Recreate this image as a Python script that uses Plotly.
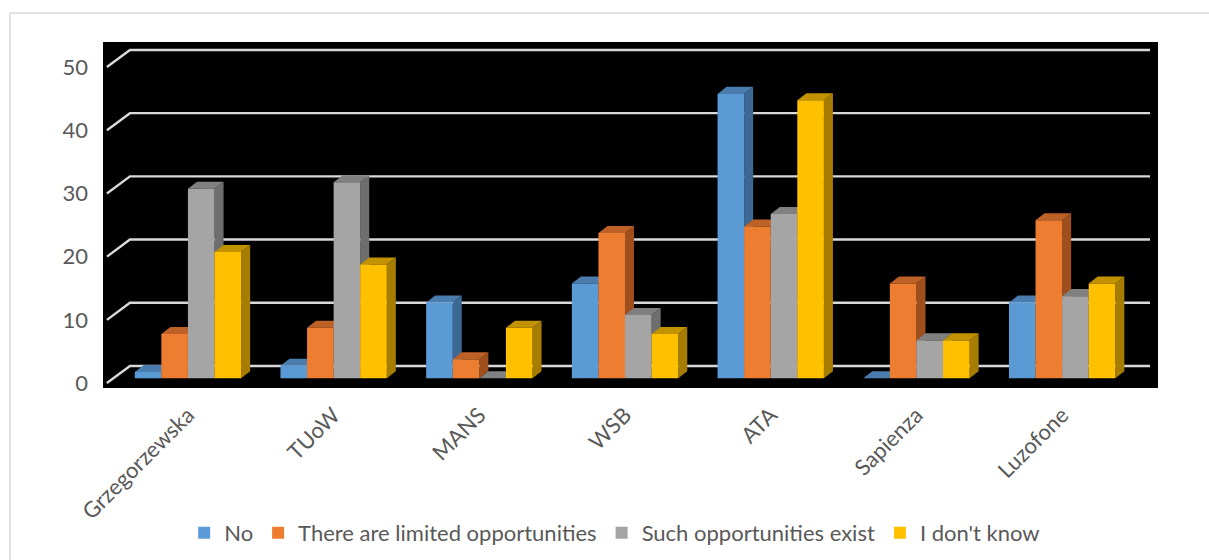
import plotly.graph_objects as go

# ---------------- data ----------------
categories = ["Grzegorzewska", "TUoW", "MANS", "WSB", "ATA", "Sapienza", "Luzofone"]
series_names = ["No", "There are limited opportunities", "Such opportunities exist", "I don't know"]
no_vals = [1, 2, 12, 15, 45, 0, 12]
limited_vals = [7, 8, 3, 23, 24, 15, 25]
exist_vals = [30, 31, 0, 10, 26, 6, 13]
dontknow_vals = [20, 18, 8, 7, 44, 6, 15]
y_ticks = [0, 10, 20, 30, 40, 50]

# ---------------- styling ----------------
front_colors = ["#5B9BD5", "#ED7D31", "#A5A5A5", "#FFC000"]
side_colors = ["#3D6894", "#9E4F1D", "#6E6E6E", "#A67D00"]
top_colors = ["#4A7CAE", "#BD6127", "#808080", "#C29200"]
FONT = "Lato"
FS = 22
TXT = "#595959"

# geometry (axis units)
GROUP_W = 0.73
BAR_W = GROUP_W / 4
DX = 0.062      # depth offset in x
DY = 1.11       # depth offset in y
BACK_DY = 1.95  # back wall offset
FRONT_DY = -0.75  # front axis plane offset
XMIN, XMAX = -0.583, 6.658
YMIN, YMAX = -1.535, 53.21

all_vals = [no_vals, limited_vals, exist_vals, dontknow_vals]
xs = list(range(len(categories)))

fig = go.Figure()
shapes = []

# back wall gridlines with the diagonal on the side wall
for v in y_ticks:
    shapes.append(dict(
        type="path", xref="x", yref="y", layer="below",
        path=f"M {-0.556},{v + FRONT_DY} L {-0.398},{v + BACK_DY} L {6.603},{v + BACK_DY}",
        line=dict(color="#D9D9D9", width=2.4)))

# 3D faces (sides / tops) drawn below the fronts
for k, vals in enumerate(all_vals):
    off = -GROUP_W / 2 + k * BAR_W
    for i, v in zip(xs, vals):
        xl = i + off
        xr = xl + BAR_W
        side = f"M {xr},0 L {xr + DX},{DY} L {xr + DX},{v + DY} L {xr},{v} Z"
        top = f"M {xl},{v} L {xl + DX},{v + DY} L {xr + DX},{v + DY} L {xr},{v} Z"
        shapes.append(dict(type="path", xref="x", yref="y", layer="below", path=side,
                           fillcolor=side_colors[k], line=dict(width=0)))
        shapes.append(dict(type="path", xref="x", yref="y", layer="below", path=top,
                           fillcolor=top_colors[k], line=dict(width=0)))

for k, vals in enumerate(all_vals):
    fig.add_trace(go.Bar(
        x=xs, y=vals, name=series_names[k],
        width=BAR_W, offset=-GROUP_W / 2 + k * BAR_W,
        marker=dict(color=front_colors[k], line=dict(width=0)),
        hoverinfo="skip"))

# outer chart frame
shapes.append(dict(type="rect", xref="paper", yref="paper", layer="below",
                   x0=(10 - 103) / 1055, x1=(1215 - 103) / 1055,
                   y0=(388 - 570) / 346, y1=(388 - 13) / 346,
                   line=dict(color="#D9D9D9", width=1.5), fillcolor="rgba(0,0,0,0)"))

fig.update_layout(
    width=1209, height=560,
    margin=dict(l=103, r=51, t=42, b=172, autoexpand=False),
    paper_bgcolor="white", plot_bgcolor="black",
    barmode="overlay",
    shapes=shapes,
    font=dict(family=FONT, size=FS, color=TXT),
    showlegend=True,
    legend=dict(orientation="h", x=0.485, xanchor="center", y=(388 - 533) / 346,
                yanchor="middle", font=dict(family=FONT, size=FS, color=TXT),
                bgcolor="rgba(0,0,0,0)"),
    xaxis=dict(range=[XMIN, XMAX], tickvals=xs, ticktext=categories, tickangle=-45,
               showgrid=False, zeroline=False, showline=False, ticks="",
               ticklabelstandoff=9, automargin=False,
               tickfont=dict(family=FONT, size=FS, color=TXT), fixedrange=True),
    yaxis=dict(range=[YMIN, YMAX], tickvals=[v + FRONT_DY for v in y_ticks],
               ticktext=[str(v) for v in y_ticks],
               showgrid=False, zeroline=False, showline=False, ticks="",
               ticklabelstandoff=14, automargin=False,
               tickfont=dict(family=FONT, size=FS, color=TXT), fixedrange=True),
)

fig.write_html("out.html")
